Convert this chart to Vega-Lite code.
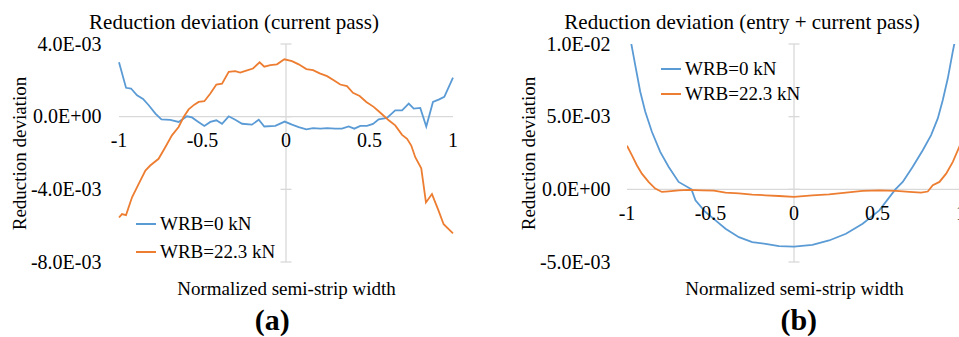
{
  "$schema": "https://vega.github.io/schema/vega-lite/v6.json",
  "background": "white",
  "padding": {"left": 10, "top": 12, "right": 0, "bottom": 0},
  "spacing": 61,
  "config": {
    "view": {"stroke": null},
    "font": "Liberation Serif",
    "title": {"font": "Liberation Serif", "fontSize": 21, "fontWeight": "normal", "color": "#000000", "anchor": "middle", "offset": 1},
    "text": {"font": "Liberation Serif"},
    "axis": {
      "labelFont": "Liberation Serif", "labelFontSize": 20, "labelColor": "#000000",
      "titleFont": "Liberation Serif", "titleFontSize": 19, "titleFontWeight": "normal", "titleColor": "#000000",
      "grid": false, "domain": false, "ticks": false, "tickSize": 0
    },
    "legend": {
      "labelFont": "Liberation Serif", "labelFontSize": 19, "labelColor": "#000000",
      "symbolType": "stroke", "symbolSize": 400, "symbolStrokeWidth": 2, "padding": 0, "labelOffset": 3
    }
  },
  "datasets": {
    "currentPass": [
      {"x": -1.000, "y": 0.00299, "series": "WRB=0 kN"},
      {"x": -0.958, "y": 0.00159, "series": "WRB=0 kN"},
      {"x": -0.928, "y": 0.00155, "series": "WRB=0 kN"},
      {"x": -0.892, "y": 0.00118, "series": "WRB=0 kN"},
      {"x": -0.856, "y": 0.00098, "series": "WRB=0 kN"},
      {"x": -0.822, "y": 0.00063, "series": "WRB=0 kN"},
      {"x": -0.782, "y": 0.00017, "series": "WRB=0 kN"},
      {"x": -0.746, "y": -0.00015, "series": "WRB=0 kN"},
      {"x": -0.693, "y": -0.00018, "series": "WRB=0 kN"},
      {"x": -0.643, "y": -0.00029, "series": "WRB=0 kN"},
      {"x": -0.593, "y": 0.00002, "series": "WRB=0 kN"},
      {"x": -0.563, "y": -0.00004, "series": "WRB=0 kN"},
      {"x": -0.529, "y": -0.00026, "series": "WRB=0 kN"},
      {"x": -0.489, "y": -0.00051, "series": "WRB=0 kN"},
      {"x": -0.453, "y": -0.00029, "series": "WRB=0 kN"},
      {"x": -0.417, "y": -0.00020, "series": "WRB=0 kN"},
      {"x": -0.383, "y": -0.00039, "series": "WRB=0 kN"},
      {"x": -0.343, "y": 0.00002, "series": "WRB=0 kN"},
      {"x": -0.304, "y": -0.00017, "series": "WRB=0 kN"},
      {"x": -0.263, "y": -0.00039, "series": "WRB=0 kN"},
      {"x": -0.204, "y": -0.00044, "series": "WRB=0 kN"},
      {"x": -0.163, "y": -0.00017, "series": "WRB=0 kN"},
      {"x": -0.130, "y": -0.00054, "series": "WRB=0 kN"},
      {"x": -0.064, "y": -0.00051, "series": "WRB=0 kN"},
      {"x": -0.008, "y": -0.00027, "series": "WRB=0 kN"},
      {"x": 0.036, "y": -0.00044, "series": "WRB=0 kN"},
      {"x": 0.076, "y": -0.00057, "series": "WRB=0 kN"},
      {"x": 0.122, "y": -0.00070, "series": "WRB=0 kN"},
      {"x": 0.162, "y": -0.00063, "series": "WRB=0 kN"},
      {"x": 0.206, "y": -0.00066, "series": "WRB=0 kN"},
      {"x": 0.246, "y": -0.00063, "series": "WRB=0 kN"},
      {"x": 0.295, "y": -0.00066, "series": "WRB=0 kN"},
      {"x": 0.335, "y": -0.00066, "series": "WRB=0 kN"},
      {"x": 0.375, "y": -0.00054, "series": "WRB=0 kN"},
      {"x": 0.409, "y": -0.00066, "series": "WRB=0 kN"},
      {"x": 0.445, "y": -0.00051, "series": "WRB=0 kN"},
      {"x": 0.485, "y": -0.00051, "series": "WRB=0 kN"},
      {"x": 0.521, "y": -0.00040, "series": "WRB=0 kN"},
      {"x": 0.555, "y": -0.00015, "series": "WRB=0 kN"},
      {"x": 0.605, "y": -0.00007, "series": "WRB=0 kN"},
      {"x": 0.654, "y": 0.00035, "series": "WRB=0 kN"},
      {"x": 0.695, "y": 0.00035, "series": "WRB=0 kN"},
      {"x": 0.735, "y": 0.00072, "series": "WRB=0 kN"},
      {"x": 0.765, "y": 0.00044, "series": "WRB=0 kN"},
      {"x": 0.804, "y": 0.00048, "series": "WRB=0 kN"},
      {"x": 0.840, "y": -0.00054, "series": "WRB=0 kN"},
      {"x": 0.880, "y": 0.00081, "series": "WRB=0 kN"},
      {"x": 0.914, "y": 0.00094, "series": "WRB=0 kN"},
      {"x": 0.948, "y": 0.00109, "series": "WRB=0 kN"},
      {"x": 1.000, "y": 0.00215, "series": "WRB=0 kN"},
      {"x": -1.000, "y": -0.00555, "series": "WRB=22.3 kN"},
      {"x": -0.982, "y": -0.00536, "series": "WRB=22.3 kN"},
      {"x": -0.958, "y": -0.00542, "series": "WRB=22.3 kN"},
      {"x": -0.922, "y": -0.00444, "series": "WRB=22.3 kN"},
      {"x": -0.882, "y": -0.00370, "series": "WRB=22.3 kN"},
      {"x": -0.842, "y": -0.00297, "series": "WRB=22.3 kN"},
      {"x": -0.813, "y": -0.00269, "series": "WRB=22.3 kN"},
      {"x": -0.763, "y": -0.00232, "series": "WRB=22.3 kN"},
      {"x": -0.723, "y": -0.00168, "series": "WRB=22.3 kN"},
      {"x": -0.683, "y": -0.00103, "series": "WRB=22.3 kN"},
      {"x": -0.643, "y": -0.00057, "series": "WRB=22.3 kN"},
      {"x": -0.613, "y": -0.00002, "series": "WRB=22.3 kN"},
      {"x": -0.583, "y": 0.00040, "series": "WRB=22.3 kN"},
      {"x": -0.549, "y": 0.00066, "series": "WRB=22.3 kN"},
      {"x": -0.523, "y": 0.00081, "series": "WRB=22.3 kN"},
      {"x": -0.489, "y": 0.00085, "series": "WRB=22.3 kN"},
      {"x": -0.453, "y": 0.00127, "series": "WRB=22.3 kN"},
      {"x": -0.417, "y": 0.00177, "series": "WRB=22.3 kN"},
      {"x": -0.383, "y": 0.00182, "series": "WRB=22.3 kN"},
      {"x": -0.343, "y": 0.00247, "series": "WRB=22.3 kN"},
      {"x": -0.304, "y": 0.00251, "series": "WRB=22.3 kN"},
      {"x": -0.274, "y": 0.00243, "series": "WRB=22.3 kN"},
      {"x": -0.238, "y": 0.00254, "series": "WRB=22.3 kN"},
      {"x": -0.198, "y": 0.00265, "series": "WRB=22.3 kN"},
      {"x": -0.158, "y": 0.00299, "series": "WRB=22.3 kN"},
      {"x": -0.130, "y": 0.00275, "series": "WRB=22.3 kN"},
      {"x": -0.094, "y": 0.00284, "series": "WRB=22.3 kN"},
      {"x": -0.054, "y": 0.00288, "series": "WRB=22.3 kN"},
      {"x": -0.010, "y": 0.00316, "series": "WRB=22.3 kN"},
      {"x": 0.036, "y": 0.00306, "series": "WRB=22.3 kN"},
      {"x": 0.076, "y": 0.00288, "series": "WRB=22.3 kN"},
      {"x": 0.122, "y": 0.00262, "series": "WRB=22.3 kN"},
      {"x": 0.162, "y": 0.00256, "series": "WRB=22.3 kN"},
      {"x": 0.202, "y": 0.00238, "series": "WRB=22.3 kN"},
      {"x": 0.246, "y": 0.00223, "series": "WRB=22.3 kN"},
      {"x": 0.286, "y": 0.00201, "series": "WRB=22.3 kN"},
      {"x": 0.325, "y": 0.00177, "series": "WRB=22.3 kN"},
      {"x": 0.365, "y": 0.00168, "series": "WRB=22.3 kN"},
      {"x": 0.401, "y": 0.00131, "series": "WRB=22.3 kN"},
      {"x": 0.441, "y": 0.00114, "series": "WRB=22.3 kN"},
      {"x": 0.481, "y": 0.00081, "series": "WRB=22.3 kN"},
      {"x": 0.525, "y": 0.00054, "series": "WRB=22.3 kN"},
      {"x": 0.555, "y": 0.00030, "series": "WRB=22.3 kN"},
      {"x": 0.585, "y": 0.00005, "series": "WRB=22.3 kN"},
      {"x": 0.615, "y": -0.00020, "series": "WRB=22.3 kN"},
      {"x": 0.654, "y": -0.00048, "series": "WRB=22.3 kN"},
      {"x": 0.695, "y": -0.00100, "series": "WRB=22.3 kN"},
      {"x": 0.725, "y": -0.00122, "series": "WRB=22.3 kN"},
      {"x": 0.750, "y": -0.00159, "series": "WRB=22.3 kN"},
      {"x": 0.774, "y": -0.00223, "series": "WRB=22.3 kN"},
      {"x": 0.810, "y": -0.00284, "series": "WRB=22.3 kN"},
      {"x": 0.838, "y": -0.00472, "series": "WRB=22.3 kN"},
      {"x": 0.874, "y": -0.00426, "series": "WRB=22.3 kN"},
      {"x": 0.910, "y": -0.00509, "series": "WRB=22.3 kN"},
      {"x": 0.944, "y": -0.00592, "series": "WRB=22.3 kN"},
      {"x": 1.000, "y": -0.00642, "series": "WRB=22.3 kN"}
    ],
    "entryPlusCurrent": [
      {"x": -1.000, "y": 0.01080, "series": "WRB=0 kN"},
      {"x": -0.975, "y": 0.01006, "series": "WRB=0 kN"},
      {"x": -0.951, "y": 0.00856, "series": "WRB=0 kN"},
      {"x": -0.921, "y": 0.00673, "series": "WRB=0 kN"},
      {"x": -0.891, "y": 0.00535, "series": "WRB=0 kN"},
      {"x": -0.851, "y": 0.00396, "series": "WRB=0 kN"},
      {"x": -0.801, "y": 0.00258, "series": "WRB=0 kN"},
      {"x": -0.751, "y": 0.00155, "series": "WRB=0 kN"},
      {"x": -0.691, "y": 0.00051, "series": "WRB=0 kN"},
      {"x": -0.614, "y": 0.00000, "series": "WRB=0 kN"},
      {"x": -0.590, "y": -0.00076, "series": "WRB=0 kN"},
      {"x": -0.530, "y": -0.00156, "series": "WRB=0 kN"},
      {"x": -0.470, "y": -0.00214, "series": "WRB=0 kN"},
      {"x": -0.410, "y": -0.00271, "series": "WRB=0 kN"},
      {"x": -0.330, "y": -0.00329, "series": "WRB=0 kN"},
      {"x": -0.250, "y": -0.00363, "series": "WRB=0 kN"},
      {"x": -0.170, "y": -0.00375, "series": "WRB=0 kN"},
      {"x": -0.090, "y": -0.00391, "series": "WRB=0 kN"},
      {"x": 0.000, "y": -0.00394, "series": "WRB=0 kN"},
      {"x": 0.110, "y": -0.00382, "series": "WRB=0 kN"},
      {"x": 0.210, "y": -0.00352, "series": "WRB=0 kN"},
      {"x": 0.311, "y": -0.00306, "series": "WRB=0 kN"},
      {"x": 0.411, "y": -0.00237, "series": "WRB=0 kN"},
      {"x": 0.511, "y": -0.00145, "series": "WRB=0 kN"},
      {"x": 0.607, "y": 0.00000, "series": "WRB=0 kN"},
      {"x": 0.651, "y": 0.00051, "series": "WRB=0 kN"},
      {"x": 0.711, "y": 0.00155, "series": "WRB=0 kN"},
      {"x": 0.771, "y": 0.00269, "series": "WRB=0 kN"},
      {"x": 0.821, "y": 0.00373, "series": "WRB=0 kN"},
      {"x": 0.861, "y": 0.00488, "series": "WRB=0 kN"},
      {"x": 0.891, "y": 0.00615, "series": "WRB=0 kN"},
      {"x": 0.921, "y": 0.00764, "series": "WRB=0 kN"},
      {"x": 0.951, "y": 0.00949, "series": "WRB=0 kN"},
      {"x": 0.961, "y": 0.01006, "series": "WRB=0 kN"},
      {"x": 1.000, "y": 0.01250, "series": "WRB=0 kN"},
      {"x": -1.000, "y": 0.00300, "series": "WRB=22.3 kN"},
      {"x": -0.971, "y": 0.00235, "series": "WRB=22.3 kN"},
      {"x": -0.941, "y": 0.00166, "series": "WRB=22.3 kN"},
      {"x": -0.911, "y": 0.00108, "series": "WRB=22.3 kN"},
      {"x": -0.871, "y": 0.00051, "series": "WRB=22.3 kN"},
      {"x": -0.831, "y": 0.00005, "series": "WRB=22.3 kN"},
      {"x": -0.791, "y": -0.00018, "series": "WRB=22.3 kN"},
      {"x": -0.751, "y": -0.00014, "series": "WRB=22.3 kN"},
      {"x": -0.691, "y": -0.00007, "series": "WRB=22.3 kN"},
      {"x": -0.631, "y": -0.00004, "series": "WRB=22.3 kN"},
      {"x": -0.550, "y": -0.00007, "series": "WRB=22.3 kN"},
      {"x": -0.480, "y": -0.00009, "series": "WRB=22.3 kN"},
      {"x": -0.410, "y": -0.00023, "series": "WRB=22.3 kN"},
      {"x": -0.330, "y": -0.00028, "series": "WRB=22.3 kN"},
      {"x": -0.250, "y": -0.00037, "series": "WRB=22.3 kN"},
      {"x": -0.170, "y": -0.00041, "series": "WRB=22.3 kN"},
      {"x": -0.090, "y": -0.00046, "series": "WRB=22.3 kN"},
      {"x": 0.000, "y": -0.00052, "series": "WRB=22.3 kN"},
      {"x": 0.110, "y": -0.00041, "series": "WRB=22.3 kN"},
      {"x": 0.210, "y": -0.00035, "series": "WRB=22.3 kN"},
      {"x": 0.311, "y": -0.00023, "series": "WRB=22.3 kN"},
      {"x": 0.411, "y": -0.00011, "series": "WRB=22.3 kN"},
      {"x": 0.511, "y": -0.00007, "series": "WRB=22.3 kN"},
      {"x": 0.611, "y": -0.00011, "series": "WRB=22.3 kN"},
      {"x": 0.691, "y": -0.00018, "series": "WRB=22.3 kN"},
      {"x": 0.761, "y": -0.00023, "series": "WRB=22.3 kN"},
      {"x": 0.801, "y": -0.00015, "series": "WRB=22.3 kN"},
      {"x": 0.831, "y": 0.00028, "series": "WRB=22.3 kN"},
      {"x": 0.871, "y": 0.00051, "series": "WRB=22.3 kN"},
      {"x": 0.911, "y": 0.00108, "series": "WRB=22.3 kN"},
      {"x": 0.951, "y": 0.00189, "series": "WRB=22.3 kN"},
      {"x": 1.000, "y": 0.00320, "series": "WRB=22.3 kN"}
    ],
    "yTicksA": [{"v": -0.008}, {"v": -0.004}, {"v": 0}, {"v": 0.004}],
    "yTicksB": [{"v": -0.005}, {"v": 0}, {"v": 0.005}, {"v": 0.01}],
    "xTickLabels": [
      {"v": -1, "t": "-1"}, {"v": -0.5, "t": "-0.5"}, {"v": 0, "t": "0"}, {"v": 0.5, "t": "0.5"}, {"v": 1, "t": "1"}
    ]
  },
  "hconcat": [
    {
      "title": {"text": "(a)", "orient": "bottom", "fontSize": 30, "fontWeight": "bold", "offset": 8, "dx": 38},
      "vconcat": [
        {
          "title": {"text": "Reduction deviation (current pass)", "dx": -52},
          "width": 334,
          "height": 218,
          "layer": [
            {
              "data": {"values": [{}]},
              "mark": {"type": "rule", "color": "#d9d9d9", "strokeWidth": 1.3},
              "encoding": {
                "x": {"datum": -1, "type": "quantitative", "scale": {"domain": [-1, 1], "nice": false}},
                "x2": {"datum": 1},
                "y": {"datum": 0, "type": "quantitative", "scale": {"domain": [-0.008, 0.004], "nice": false}}
              }
            },
            {
              "data": {"values": [{}]},
              "mark": {"type": "rule", "color": "#d9d9d9", "strokeWidth": 1.3},
              "encoding": {
                "x": {"datum": 0, "type": "quantitative"},
                "y": {"datum": -0.008, "type": "quantitative"},
                "y2": {"datum": 0.004}
              }
            },
            {
              "data": {"name": "yTicksA"},
              "mark": {"type": "rule", "color": "#d9d9d9", "strokeWidth": 1.3},
              "encoding": {
                "x": {"datum": -0.033, "type": "quantitative"},
                "x2": {"datum": 0.033},
                "y": {"field": "v", "type": "quantitative"}
              }
            },
            {
              "data": {"name": "currentPass"},
              "mark": {"type": "line", "strokeWidth": 1.8},
              "encoding": {
                "x": {
                  "field": "x", "type": "quantitative",
                  "scale": {"domain": [-1, 1], "nice": false},
                  "axis": {"title": "Normalized semi-strip width", "labels": false, "titlePadding": 17, "titleFont": "Liberation Serif"}
                },
                "y": {
                  "field": "y", "type": "quantitative",
                  "scale": {"domain": [-0.008, 0.004], "nice": false},
                  "axis": {
                    "title": "Reduction deviation",
                    "values": [-0.008, -0.004, 0, 0.004],
                    "labelExpr": "replace(replace(replace(format(datum.value, '.1e'), '\u2212', '-'), 'e-', 'E-0'), 'e+', 'E+0')",
                    "labelFont": "Liberation Serif",
                    "titleFont": "Liberation Serif",
                    "labelPadding": 18,
                    "titlePadding": 1
                  }
                },
                "color": {
                  "field": "series", "type": "nominal",
                  "scale": {"domain": ["WRB=0 kN", "WRB=22.3 kN"], "range": ["#5B9BD5", "#ED7D31"]},
                  "legend": {"title": null, "orient": "none", "legendX": 16, "legendY": 169, "rowPadding": 7, "labelFont": "Liberation Serif"}
                },
                "order": {"field": "x", "type": "quantitative"}
              }
            },
            {
              "data": {"name": "xTickLabels"},
              "mark": {"type": "text", "dy": 24, "font": "Liberation Serif", "fontSize": 20, "baseline": "middle", "align": "center", "color": "#000000"},
              "encoding": {
                "x": {"field": "v", "type": "quantitative"},
                "y": {"datum": 0, "type": "quantitative"},
                "text": {"field": "t", "type": "nominal"}
              }
            }
          ]
        }
      ]
    },
    {
      "title": {"text": "(b)", "orient": "bottom", "fontSize": 30, "fontWeight": "bold", "offset": 8, "dx": 56},
      "vconcat": [
        {
          "title": {"text": "Reduction deviation (entry + current pass)", "dx": -52},
          "width": 334,
          "height": 218,
          "layer": [
            {
              "data": {"values": [{}]},
              "mark": {"type": "rule", "color": "#d9d9d9", "strokeWidth": 1.3},
              "encoding": {
                "x": {"datum": -1, "type": "quantitative", "scale": {"domain": [-1, 1], "nice": false}},
                "x2": {"datum": 1},
                "y": {"datum": 0, "type": "quantitative", "scale": {"domain": [-0.005, 0.01], "nice": false}}
              }
            },
            {
              "data": {"values": [{}]},
              "mark": {"type": "rule", "color": "#d9d9d9", "strokeWidth": 1.3},
              "encoding": {
                "x": {"datum": 0, "type": "quantitative"},
                "y": {"datum": -0.005, "type": "quantitative"},
                "y2": {"datum": 0.01}
              }
            },
            {
              "data": {"name": "yTicksB"},
              "mark": {"type": "rule", "color": "#d9d9d9", "strokeWidth": 1.3},
              "encoding": {
                "x": {"datum": -0.033, "type": "quantitative"},
                "x2": {"datum": 0.033},
                "y": {"field": "v", "type": "quantitative"}
              }
            },
            {
              "data": {"name": "entryPlusCurrent"},
              "mark": {"type": "line", "strokeWidth": 1.8, "clip": true},
              "encoding": {
                "x": {
                  "field": "x", "type": "quantitative",
                  "scale": {"domain": [-1, 1], "nice": false},
                  "axis": {"title": "Normalized semi-strip width", "labels": false, "titlePadding": 17, "titleFont": "Liberation Serif"}
                },
                "y": {
                  "field": "y", "type": "quantitative",
                  "scale": {"domain": [-0.005, 0.01], "nice": false},
                  "axis": {
                    "title": "Reduction deviation",
                    "values": [-0.005, 0, 0.005, 0.01],
                    "labelExpr": "replace(replace(replace(format(datum.value, '.1e'), '\u2212', '-'), 'e-', 'E-0'), 'e+', 'E+0')",
                    "labelFont": "Liberation Serif",
                    "titleFont": "Liberation Serif",
                    "labelPadding": 17,
                    "titlePadding": 1
                  }
                },
                "color": {
                  "field": "series", "type": "nominal",
                  "scale": {"domain": ["WRB=0 kN", "WRB=22.3 kN"], "range": ["#5B9BD5", "#ED7D31"]},
                  "legend": {"title": null, "orient": "none", "legendX": 33, "legendY": 14, "rowPadding": 4, "labelFont": "Liberation Serif"}
                },
                "order": {"field": "x", "type": "quantitative"}
              }
            },
            {
              "data": {"name": "xTickLabels"},
              "mark": {"type": "text", "dy": 25, "font": "Liberation Serif", "fontSize": 20, "baseline": "middle", "align": "center", "color": "#000000"},
              "encoding": {
                "x": {"field": "v", "type": "quantitative"},
                "y": {"datum": 0, "type": "quantitative"},
                "text": {"field": "t", "type": "nominal"}
              }
            }
          ]
        }
      ]
    }
  ],
  "resolve": {"scale": {"color": "independent"}}
}
